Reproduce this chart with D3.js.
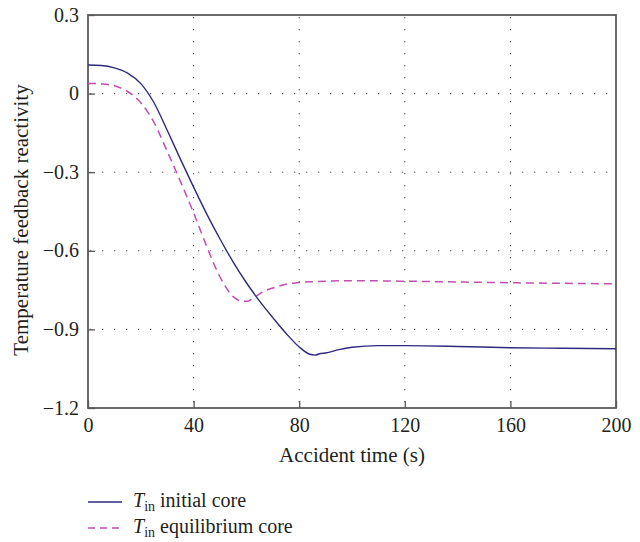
<!DOCTYPE html>
<html>
<head>
<meta charset="utf-8">
<script src="https://cdn.jsdelivr.net/npm/d3@7/dist/d3.min.js"></script>
<style>
  html, body { margin: 0; padding: 0; background: #fff; }
  svg { display: block; }
  text { font-family: "Liberation Serif", "DejaVu Serif", serif; fill: #231f20; }
</style>
</head>
<body>
<svg id="chart" width="640" height="542"></svg>
<script>
// ---- data ----
const timeInitial = [0, 5, 10, 15, 20, 25, 30, 35, 40, 45, 50, 55, 60, 65, 70, 75, 80, 84, 86, 88, 90, 95, 100, 110, 120, 140, 160, 180, 200];
const reactInitial = [0.109, 0.107, 0.098, 0.078, 0.038, -0.035, -0.14, -0.25, -0.357, -0.46, -0.555, -0.643, -0.722, -0.792, -0.855, -0.915, -0.967, -0.995, -0.998, -0.992, -0.99, -0.977, -0.968, -0.962, -0.962, -0.965, -0.970, -0.972, -0.974];
const timeEquil = [0, 5, 10, 15, 20, 25, 30, 35, 40, 45, 50, 55, 58, 60, 63, 66, 70, 75, 80, 85, 100, 120, 140, 160, 180, 200];
const reactEquil = [0.039, 0.037, 0.030, 0.008, -0.035, -0.11, -0.22, -0.335, -0.455, -0.584, -0.70, -0.775, -0.792, -0.793, -0.778, -0.758, -0.742, -0.728, -0.721, -0.718, -0.714, -0.716, -0.719, -0.722, -0.724, -0.726];
const xTicks = [0, 40, 80, 120, 160, 200];
const yTicks = [0.3, 0, -0.3, -0.6, -0.9, -1.2];
const xTickLabels = ["0", "40", "80", "120", "160", "200"];
const yTickLabels = ["0.3", "0", "\u22120.3", "\u22120.6", "\u22120.9", "\u22121.2"];
const seriesNames = ["initial core", "equilibrium core"];
const xTitle = "Accident time (s)";
const yTitle = "Temperature feedback reactivity";

// ---- layout ----
const L = 88, R = 616, T = 15, B = 408;
const svg = d3.select("#chart");
const x = d3.scaleLinear().domain([0, 200]).range([L, R]);
const y = d3.scaleLinear().domain([-1.2, 0.3]).range([B, T]);

const navy = "#2e2a7e";
const magenta = "#c24fb0";

// grid
const grid = svg.append("g");
grid.selectAll("line.vg").data(xTicks.slice(1, -1)).enter().append("line")
  .attr("x1", d => x(d)).attr("x2", d => x(d))
  .attr("y1", T + 2).attr("y2", B - 2)
  .attr("stroke", "#555").attr("stroke-width", 1.1)
  .attr("stroke-dasharray", "1.2,10.8");
grid.selectAll("line.hg").data(yTicks.slice(1, -1)).enter().append("line")
  .attr("y1", d => y(d)).attr("y2", d => y(d))
  .attr("x1", L + 2).attr("x2", R - 6)
  .attr("stroke", "#555").attr("stroke-width", 1.1)
  .attr("stroke-dasharray", "1.2,10.8");

// axes with inward ticks
const xAxis = d3.axisBottom(x).tickValues(xTicks).tickSize(-7)
  .tickFormat((d, i) => xTickLabels[i]);
const gx = svg.append("g").attr("transform", `translate(0,${B})`).call(xAxis);
gx.select(".domain").remove();
gx.selectAll(".tick line").attr("stroke", "#555").attr("stroke-width", 1.3);
gx.selectAll(".tick text").attr("y", 24).attr("dy", 0)
  .style("font-size", "20px").style("font-family", "Liberation Serif, serif").attr("fill", "#231f20");

const yAxis = d3.axisLeft(y).tickValues(yTicks).tickSize(-7)
  .tickFormat((d, i) => yTickLabels[i]);
const gy = svg.append("g").attr("transform", `translate(${L},0)`).call(yAxis);
gy.select(".domain").remove();
gy.selectAll(".tick line").attr("stroke", "#555").attr("stroke-width", 1.3);
gy.selectAll(".tick text").attr("x", -9).attr("dy", "0.3em")
  .style("font-size", "20px").style("font-family", "Liberation Serif, serif").attr("fill", "#231f20");

// frame
svg.append("rect").attr("x", L).attr("y", T).attr("width", R - L).attr("height", B - T)
  .attr("fill", "none").attr("stroke", "#5a5a5a").attr("stroke-width", 1.8);

// lines
const line = d3.line().x(d => x(d[0])).y(d => y(d[1])).curve(d3.curveMonotoneX);
const dataInitial = timeInitial.map((t, i) => [t, reactInitial[i]]);
const dataEquil = timeEquil.map((t, i) => [t, reactEquil[i]]);

svg.append("path").datum(dataEquil).attr("d", line)
  .attr("fill", "none").attr("stroke", magenta).attr("stroke-width", 1.5)
  .attr("stroke-dasharray", "8,5");
svg.append("path").datum(dataInitial).attr("d", line)
  .attr("fill", "none").attr("stroke", navy).attr("stroke-width", 1.4);

// titles
svg.append("text").attr("x", (L + R) / 2).attr("y", 462)
  .attr("text-anchor", "middle").style("font-size", "21px").text(xTitle);
svg.append("text").attr("transform", "translate(28,220) rotate(-90)")
  .attr("text-anchor", "middle").style("font-size", "21px").text(yTitle);

// legend
const legend = svg.append("g");
const rows = [
  { name: seriesNames[0], color: navy, dash: null, y: 502 },
  { name: seriesNames[1], color: magenta, dash: "7,5", y: 528 }
];
rows.forEach(r => {
  legend.append("line").attr("x1", 88).attr("x2", 122).attr("y1", r.y).attr("y2", r.y)
    .attr("stroke", r.color).attr("stroke-width", 1.4)
    .attr("stroke-dasharray", r.dash);
  const t = legend.append("text").attr("x", 133).attr("y", r.y + 5).style("font-size", "20px");
  t.append("tspan").style("font-style", "italic").text("T");
  t.append("tspan").attr("dy", 4).style("font-size", "14px").text("in");
  t.append("tspan").attr("dy", -4).text(" " + r.name);
});
</script>
</body>
</html>
